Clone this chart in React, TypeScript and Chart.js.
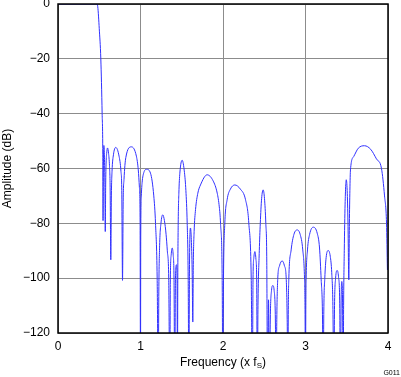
import React, { useEffect, useRef } from "react";
import { Chart, registerables } from "chart.js";
Chart.register(...registerables);

// Frequency (x fS) and amplitude (dB)
const freq = [
  0, 0.3, 0.47, 0.482, 0.5, 0.519, 0.535, 0.543, 0.546, 0.551, 0.556, 0.562, 0.568, 0.573,
  0.578, 0.583, 0.59, 0.6, 0.613, 0.624, 0.632, 0.64, 0.647, 0.655, 0.672, 0.7, 0.74, 0.763,
  0.773, 0.782, 0.79, 0.8, 0.822, 0.891, 0.95, 0.973, 0.987, 0.995, 1.0, 1.003, 1.01, 1.02,
  1.04, 1.075, 1.121, 1.161, 1.182, 1.202, 1.215, 1.222, 1.232, 1.248, 1.27, 1.29, 1.31,
  1.325, 1.342, 1.355, 1.362, 1.372, 1.384, 1.396, 1.406, 1.415, 1.424, 1.436, 1.443, 1.448,
  1.452, 1.457, 1.465, 1.477, 1.505, 1.533, 1.55, 1.566, 1.578, 1.586, 1.594, 1.606, 1.616,
  1.626, 1.634, 1.64, 1.65, 1.667, 1.695, 1.727, 1.808, 1.88, 1.93, 1.955, 1.97, 1.99, 1.998,
  2.006, 2.022, 2.05, 2.09, 2.143, 2.21, 2.273, 2.313, 2.342, 2.356, 2.364, 2.374, 2.387,
  2.399, 2.408, 2.416, 2.424, 2.44, 2.452, 2.468, 2.487, 2.503, 2.519, 2.53, 2.54, 2.552,
  2.562, 2.575, 2.588, 2.604, 2.62, 2.633, 2.645, 2.652, 2.664, 2.685, 2.717, 2.745, 2.766,
  2.778, 2.786, 2.792, 2.798, 2.826, 2.86, 2.9, 2.935, 2.967, 2.988, 2.994, 3.0, 3.004, 3.008,
  3.024, 3.05, 3.095, 3.142, 3.17, 3.19, 3.205, 3.215, 3.222, 3.234, 3.25, 3.275, 3.3, 3.318,
  3.332, 3.343, 3.352, 3.365, 3.384, 3.4, 3.414, 3.424, 3.432, 3.44, 3.448, 3.457, 3.462,
  3.47, 3.48, 3.494, 3.505, 3.515, 3.525, 3.532, 3.538, 3.545, 3.585, 3.64, 3.715, 3.79,
  3.86, 3.921, 3.958, 3.982, 3.993,
];
const amp = [
  0, 0, 0, -1, -9, -20, -40, -55, -79, -58, -51.6, -55, -65, -83,
  -66, -58, -54.5, -52.5, -54.5, -59, -67, -93.3, -70, -61, -55, -52.3, -55.5, -61,
  -68, -100.8, -72, -64, -56, -52.1, -55.5, -60.5, -67, -78, -140, -85, -70, -65,
  -61.5, -60.3, -61.7, -70, -80, -100, -140, -105, -88, -80, -76.9, -79, -84,
  -90, -100, -140, -100, -91.5, -89, -91.5, -100, -140, -100, -95.1, -100, -140,
  -100, -80, -69, -61.7, -57, -61.5, -68, -80, -100, -140, -95, -81.7, -86,
  -97, -116, -95, -83, -75, -69, -66, -62.3, -64.5, -69, -74, -80, -100, -140,
  -100, -80, -71.4, -67.5, -66, -67.5, -71.4, -80, -100, -140, -100, -92.5, -90.3,
  -93, -100, -140, -110, -90, -80, -71, -67.8, -71, -80, -92, -140, -107.9,
  -140, -112, -104.5, -102.7, -104.5, -112, -140, -115, -100, -95.5, -93.7, -95.5, -100,
  -115, -140, -110, -100, -89.7, -84, -82.4, -84, -89.7, -100, -110, -140, -110, -100,
  -89.7, -84, -81.4, -83.6, -89, -100.6, -112, -140, -112, -100, -92.5, -89.9, -92, -98,
  -110, -140, -110, -100, -97.2, -99.5, -108, -140, -108, -101.2, -106, -140, -110,
  -90, -73, -64.1, -68, -80, -100.6, -80, -68, -60.5, -55.6, -52.6, -51.7, -53,
  -56.5, -60, -70, -80, -97,
];
const xTicks = [0, 1, 2, 3, 4];
const yTicks = [0, -20, -40, -60, -80, -100, -120];

const FONT = '"Liberation Sans", Arial, sans-serif';

export default function App() {
  const ref = useRef<HTMLCanvasElement>(null);
  useEffect(() => {
    if (!ref.current) return;
    const data = freq.map((f, i) => ({ x: f, y: amp[i] }));
    const frame = {
      id: "frame",
      afterDraw(chart: any) {
        const { ctx, chartArea: a } = chart;
        ctx.save();
        ctx.strokeStyle = "#000";
        ctx.lineWidth = 1.5;
        ctx.strokeRect(a.left, a.top, a.right - a.left, a.bottom - a.top);
        ctx.fillStyle = "#000";
        const main = "Frequency (x f";
        ctx.font = `12px ${FONT}`;
        const w1 = ctx.measureText(main).width;
        const w3 = ctx.measureText(")").width;
        ctx.font = `8px ${FONT}`;
        const w2 = ctx.measureText("S").width;
        const cx = (a.left + a.right) / 2;
        const x0 = cx - (w1 + w2 + w3) / 2;
        const by = 365.5;
        ctx.textBaseline = "alphabetic";
        ctx.textAlign = "left";
        ctx.font = `12px ${FONT}`;
        ctx.fillText(main, x0, by);
        ctx.font = `8px ${FONT}`;
        ctx.fillText("S", x0 + w1, by + 2.5);
        ctx.font = `12px ${FONT}`;
        ctx.fillText(")", x0 + w1 + w2, by);
        ctx.save();
        ctx.translate(8, (a.top + a.bottom) / 2);
        ctx.rotate(-Math.PI / 2);
        ctx.textAlign = "center";
        ctx.textBaseline = "middle";
        ctx.fillText("Amplitude (dB)", 0, 0);
        ctx.restore();
        ctx.font = `7px ${FONT}`;
        ctx.textAlign = "right";
        ctx.textBaseline = "alphabetic";
        ctx.fillText("G011", 400, 375);
        ctx.restore();
      },
    };
    const chart = new Chart(ref.current, {
      type: "line",
      data: {
        datasets: [
          {
            data,
            borderColor: "#3030ff",
            borderWidth: 1,
            pointRadius: 0,
            fill: false,
            cubicInterpolationMode: "monotone",
          } as any,
        ],
      },
      options: {
        animation: false,
        responsive: false,
        maintainAspectRatio: false,
        layout: { padding: { top: 4, right: 13, left: 0, bottom: 0 } },
        plugins: { legend: { display: false }, tooltip: { enabled: false } },
        scales: {
          x: {
            type: "linear",
            min: 0,
            max: 4,
            afterFit: (s: any) => {
              s.height = 44;
              s.paddingLeft = 0;
              s.paddingRight = 0;
            },
            afterBuildTicks: (s: any) => {
              s.ticks = xTicks.map((v) => ({ value: v }));
            },
            grid: { color: "#8c8c8c", lineWidth: 1, drawTicks: false },
            border: { display: false },
            ticks: {
              color: "#000",
              font: { size: 12, family: FONT },
              padding: 6,
              maxRotation: 0,
              autoSkip: false,
            },
          },
          y: {
            type: "linear",
            min: -120,
            max: 0,
            afterFit: (s: any) => {
              s.width = 58;
              s.paddingTop = 0;
              s.paddingBottom = 0;
            },
            afterBuildTicks: (s: any) => {
              s.ticks = yTicks.map((v) => ({ value: v }));
            },
            grid: { color: "#8c8c8c", lineWidth: 1, drawTicks: false },
            border: { display: false },
            ticks: {
              color: "#000",
              font: { size: 12, family: FONT },
              padding: 8,
              autoSkip: false,
              callback: (v: any) => String(v).replace("-", "\u2212"),
            },
          },
        },
      } as any,
      plugins: [frame],
    });
    return () => chart.destroy();
  }, []);
  return (
    <div style={{ position: "absolute", left: 0, top: 0, width: 401, height: 377 }}>
      <canvas ref={ref} width={401} height={377} style={{ width: 401, height: 377, display: "block" }} />
    </div>
  );
}
